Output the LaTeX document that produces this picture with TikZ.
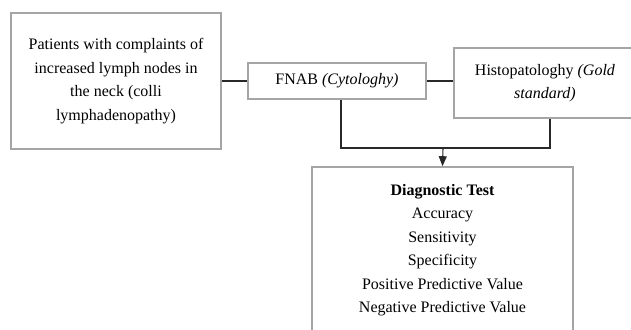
\documentclass[tikz,border=0pt]{standalone}
\usepackage{fontspec}
\setmainfont{Liberation Serif}
\usetikzlibrary{arrows.meta}
\definecolor{boxgray}{RGB}{165,165,165}
\definecolor{linegray}{RGB}{40,40,40}
\tikzset{
  box/.style={draw=boxgray, line width=1.6pt, align=center, inner sep=0pt,
    font=\fontsize{16}{23.5}\selectfont},
  conn/.style={draw=linegray, line width=1.1pt},
  arr/.style={conn, -{Triangle[length=10pt,width=8pt]}}
}
\begin{document}
\begin{tikzpicture}[x=1pt,y=-1pt]
\clip (0,0) rectangle (631,329);
\fill[white] (0,0) rectangle (631,329);
\node[box, minimum width=210pt, minimum height=136pt] (pat) at (116,81)
  {Patients with complaints of\\increased lymph nodes in\\the neck (colli\\lymphadenopathy)};
\node[box, minimum width=178pt, minimum height=36pt] (fnab) at (337,81)
  {FNAB \textit{(Cytologhy)}};
\node[box, minimum width=182pt, minimum height=70pt] (histo) at (545,83)
  {Histopatologhy \textit{(Gold}\\\textit{standard)}};
\node[box, minimum width=261pt, minimum height=166pt] (diag) at (442.5,250)
  {\textbf{Diagnostic Test}\\Accuracy\\Sensitivity\\Specificity\\Positive Predictive Value\\Negative Predictive Value};
\coordinate (j) at (443,148);
\draw[conn] (pat.east) -- (fnab.west);
\draw[conn] (fnab.east) -- (histo.west |- fnab.east);
\draw[conn] ([xshift=4pt]fnab.south) -- ([xshift=4pt]fnab.south |- j)
  -- ([xshift=5pt]histo.south |- j) -- ([xshift=5pt]histo.south);
\draw[arr] (j) -- (diag.north);
\end{tikzpicture}
\end{document}
